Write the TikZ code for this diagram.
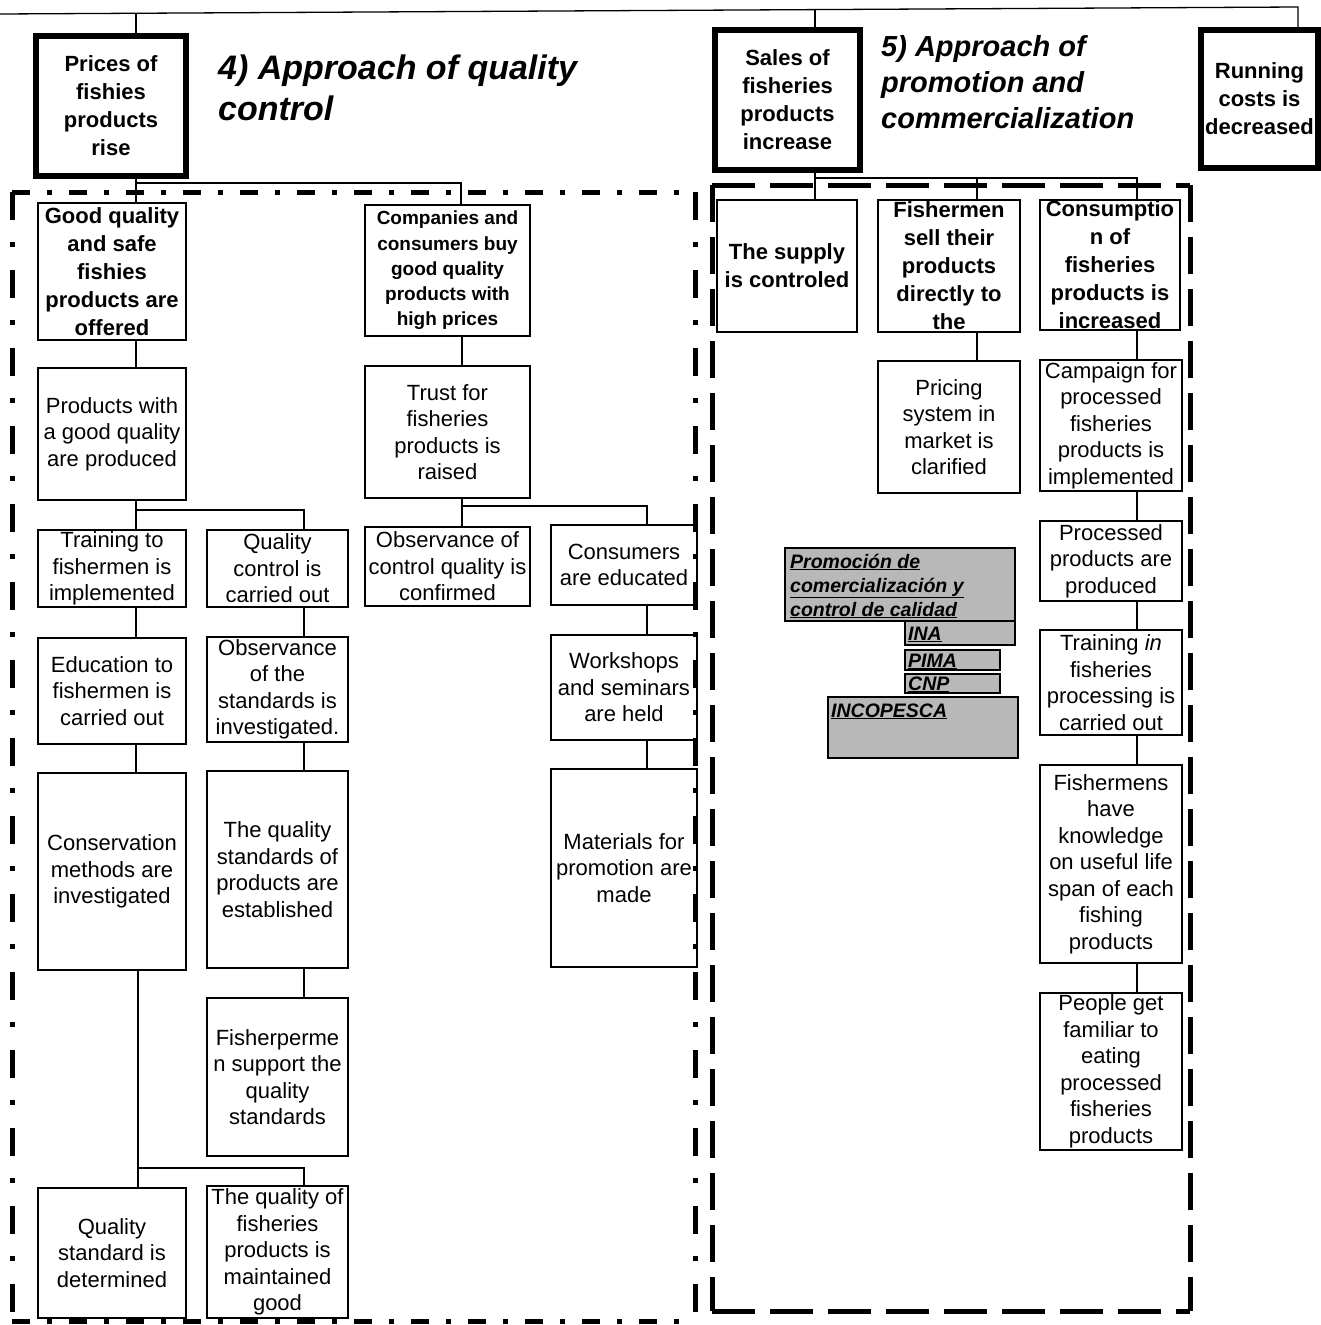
\documentclass[tikz,border=0pt]{standalone}
\usepackage{fontspec}
\setmainfont{Liberation Sans}
\usetikzlibrary{calc}

% box with its text set centred in a second node
\newcommand\fbx[8]{%
  \node[#1, minimum width={(#6-#4)*1pt}, minimum height={(#7-#5)*1pt}] (#3) at ({(#4+#6)/2},{(#5+#7)/2}) {};
  \node[#2] (#3-t) at (#3.center) {#8};
}

\tikzset{
  frame/.style={draw, line width=2pt, fill=white, inner sep=0pt},
  heavy/.style={draw, line width=5.5pt, fill=white, inner sep=0pt},
  shade/.style={draw, line width=1.5pt, fill=black!28, inner sep=0pt},
  txt/.style={align=center, inner sep=0pt, font=\fontsize{22}{26.5}\selectfont},
  btxt/.style={align=center, inner sep=0pt, font=\bfseries\fontsize{22}{28}\selectfont},
  ctxt/.style={align=center, inner sep=0pt, font=\bfseries\fontsize{19}{25.2}\selectfont},
  gtxt/.style={anchor=base west, inner sep=0pt, font=\bfseries\itshape\fontsize{19.5}{24}\selectfont},
  ttlA/.style={anchor=base west, inner sep=0pt, font=\bfseries\itshape\fontsize{34}{41}\selectfont},
  ttlB/.style={anchor=base west, inner sep=0pt, font=\bfseries\itshape\fontsize{29}{36}\selectfont},
  link/.style={line width=1.3pt},
  hdd/.style={line width=5pt, dash pattern=on 18pt off 17pt on 5pt off 17pt},
  vdd/.style={line width=5pt, dash pattern=on 28pt off 22pt on 5pt off 23pt},
  hds/.style={line width=5pt, dash pattern=on 43pt off 15pt},
  vds/.style={line width=5pt, dash pattern=on 37pt off 15pt},
}

\begin{document}
\begin{tikzpicture}[x=1pt,y=-1pt]
\useasboundingbox[fill=white] (0,0) rectangle (1321,1325);

% ---------- goals ----------
\fbx{heavy}{btxt}{prices}{36}{36}{186}{176}{Prices of\\fishies\\products\\rise}
\fbx{heavy}{btxt}{sales}{715}{30}{860}{170}{Sales of\\fisheries\\products\\increase}
\fbx{heavy}{btxt}{running}{1201}{30}{1318}{168}{Running\\costs is\\decreased}

\node[ttlA] (t4a) at (218,79) {4) Approach of quality};
\node[ttlA] (t4b) at (218,120) {control};
\node[ttlB] (t5a) at (881,56) {5) Approach of};
\node[ttlB] (t5b) at (881,92) {promotion and};
\node[ttlB] (t5c) at (881,128) {commercialization};

% ---------- quality control ----------
\fbx{frame}{btxt}{goodq}{38}{203}{186}{340}{Good quality\\and safe\\fishies\\products are\\offered}
\fbx{frame}{ctxt}{comp}{365}{205}{530}{336}{Companies and\\consumers buy\\good quality\\products with\\high prices}
\fbx{frame}{txt}{prod}{38}{368}{186}{500}{Products with\\a good quality\\are produced}
\fbx{frame}{txt}{trust}{365}{366}{530}{498}{Trust for\\fisheries\\products is\\raised}
\fbx{frame}{txt}{train}{38}{530}{186}{607}{Training to\\fishermen is\\implemented}
\fbx{frame}{txt}{qc}{207}{530}{348}{607}{Quality\\control is\\carried out}
\fbx{frame}{txt}{ocq}{365}{527}{530}{606}{Observance of\\control quality is\\confirmed}
\fbx{frame}{txt}{consumers}{551}{525}{697}{605}{Consumers\\are educated}
\fbx{frame}{txt}{educ}{38}{638}{186}{744}{Education to\\fishermen is\\carried out}
\fbx{frame}{txt}{obsstd}{207}{637}{348}{742}{Observance\\of the\\standards is\\investigated.}
\fbx{frame}{txt}{workshops}{551}{635}{697}{740}{Workshops\\and seminars\\are held}
\fbx{frame}{txt}{cons}{38}{773}{186}{970}{Conservation\\methods are\\investigated}
\fbx{frame}{txt}{qstd}{207}{771}{348}{968}{The quality\\standards of\\products are\\established}
\fbx{frame}{txt}{materials}{551}{769}{697}{967}{Materials for\\promotion are\\made}
\fbx{frame}{txt}{fisherp}{207}{998}{348}{1156}{Fisherperme\\n support the\\quality\\standards}
\fbx{frame}{txt}{qdet}{38}{1188}{186}{1318}{Quality\\standard is\\determined}
\fbx{frame}{txt}{qmaint}{207}{1186}{348}{1318}{The quality of\\fisheries\\products is\\maintained\\good}

% ---------- promotion and commercialization ----------
\fbx{frame}{btxt}{supply}{717}{200}{857}{332}{The supply\\is controled}
\fbx{frame}{btxt}{fishermen}{878}{200}{1020}{332}{Fishermen\\sell their\\products\\directly to\\the}
\fbx{frame}{btxt}{consump}{1040}{200}{1180}{330}{Consumptio\\n of\\fisheries\\products is\\increased}
\fbx{frame}{txt}{pricing}{878}{361}{1020}{493}{Pricing\\system in\\market is\\clarified}
\fbx{frame}{txt}{campaign}{1040}{360}{1182}{491}{Campaign for\\processed\\fisheries\\products is\\implemented}
\fbx{frame}{txt}{processed}{1040}{521}{1182}{601}{Processed\\products are\\produced}
\fbx{frame}{txt}{trainin}{1040}{630}{1182}{735}{Training \textit{in}\\fisheries\\processing is\\carried out}
\fbx{frame}{txt}{knowledge}{1040}{765}{1182}{963}{Fishermens\\have\\knowledge\\on useful life\\span of each\\fishing\\products}
\fbx{frame}{txt}{familiar}{1040}{993}{1182}{1150}{People get\\familiar to\\eating\\processed\\fisheries\\products}

% ---------- institutions ----------
\fbx{shade}{gtxt}{g1}{785}{548}{1015}{621}{}
\fbx{shade}{gtxt}{gina}{905}{621}{1015}{645}{}
\fbx{shade}{gtxt}{gpima}{905}{650}{1000}{670}{}
\fbx{shade}{gtxt}{gcnp}{905}{674}{1000}{693}{}
\fbx{shade}{gtxt}{ginco}{828}{697}{1018}{758}{}
\node[gtxt] (g1a) at (790,568) {\underline{Promoción de}};
\node[gtxt] (g1b) at (790,592) {\underline{comercialización y}};
\node[gtxt] (g1c) at (790,616) {\underline{control de calidad}};
\node[gtxt] (ina) at (908,640) {\underline{INA}};
\node[gtxt] (pima) at (908,667) {\underline{PIMA}};
\node[gtxt] (cnp) at (908,690) {\underline{CNP}};
\node[gtxt] (inco) at (831,717) {\underline{INCOPESCA}};

% ---------- connectors ----------
\coordinate (topL) at (0,14);
\coordinate (topR) at (1298,7);
\coordinate (d1) at ($(topL)!0.1048!(topR)$);
\coordinate (d2) at ($(topL)!0.6279!(topR)$);
\draw[link] (topL) -- (topR) -- (topR |- running.north);
\draw[link] (d1) -- (d1 |- prices.north);
\draw[link] (d2) -- (d2 |- sales.north);

\coordinate (j1) at (136,183);
\coordinate (j2) at (461,183);
\draw[link] (j1 |- prices.south) -- (j1 |- goodq.north);
\draw[link] (j1) -- (j2) -- (j2 |- comp.north);
\draw[link] (goodq.south -| j1) -- (prod.north -| j1);
\coordinate (j3) at (136,510);
\coordinate (j4) at (304,510);
\draw[link] (prod.south -| j3) -- (train.north -| j3);
\draw[link] (j3) -- (j4) -- (j4 |- qc.north);
\draw[link] (train.south -| j3) -- (educ.north -| j3);
\draw[link] (qc.south -| j4) -- (obsstd.north -| j4);
\draw[link] (educ.south -| j3) -- (cons.north -| j3);
\draw[link] (obsstd.south -| j4) -- (qstd.north -| j4);
\draw[link] (qstd.south -| j4) -- (fisherp.north -| j4);
\coordinate (j5) at (138,1168);
\coordinate (j6) at (304,1168);
\draw[link] (cons.south -| j5) -- (qdet.north -| j5);
\draw[link] (j5) -- (j6) -- (j6 |- qmaint.north);
\coordinate (j7) at (462,506);
\coordinate (j8) at (647,506);
\draw[link] (comp.south -| j7) -- (trust.north -| j7);
\draw[link] (trust.south -| j7) -- (ocq.north -| j7);
\draw[link] (j7) -- (j8) -- (j8 |- consumers.north);
\draw[link] (consumers.south -| j8) -- (workshops.north -| j8);
\draw[link] (workshops.south -| j8) -- (materials.north -| j8);

\coordinate (k1) at (815,178);
\coordinate (k2) at (977,178);
\coordinate (k3) at (1137,178);
\draw[link] (sales.south -| k1) -- (supply.north -| k1);
\draw[link] (k1) -- (k3) -- (k3 |- consump.north);
\draw[link] (k2) -- (k2 |- fishermen.north);
\draw[link] (fishermen.south -| k2) -- (pricing.north -| k2);
\draw[link] (consump.south -| k3) -- (campaign.north -| k3);
\draw[link] (campaign.south -| k3) -- (processed.north -| k3);
\draw[link] (processed.south -| k3) -- (trainin.north -| k3);
\draw[link] (trainin.south -| k3) -- (knowledge.north -| k3);
\draw[link] (knowledge.south -| k3) -- (familiar.north -| k3);

% ---------- approach frames ----------
\draw[hdd] (12,192) -- (695,192);
\draw[hdd] (12,1321) -- (695,1321);
\draw[vdd] (12,192) -- (12,1321);
\draw[vdd] (695,192) -- (695,1321);
\draw[hds] (712,185) -- (1190,185);
\draw[hds] (712,1311) -- (1190,1311);
\draw[vds] (712,185) -- (712,1311);
\draw[vds] (1190,185) -- (1190,1311);
\end{tikzpicture}
\end{document}
